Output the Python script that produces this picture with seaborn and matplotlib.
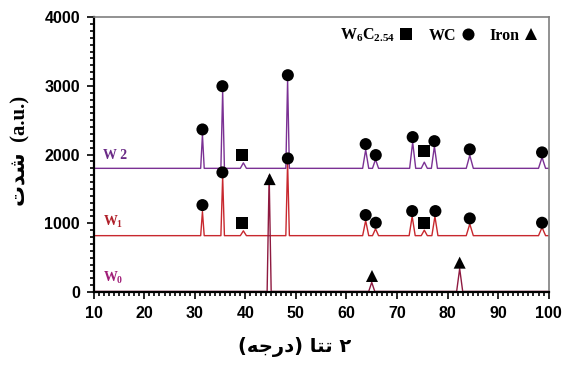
import numpy as np
import pandas as pd
import matplotlib
matplotlib.use('Agg')
import matplotlib.pyplot as plt
import seaborn as sns
from matplotlib.ticker import MultipleLocator

# XRD patterns (2-theta in degrees, intensity in a.u.)
w2_base = 1800
w2_peaks = [31.5, 35.5, 39.6, 48.35, 63.8, 65.75, 73.1, 75.4, 77.4, 84.4, 98.7]
w2_tops = [2290, 2930, 1880, 3090, 2070, 1930, 2180, 1890, 2120, 1990, 1960]
w2_widths = [0.35, 0.35, 0.6, 0.35, 0.6, 0.6, 0.6, 0.6, 0.6, 0.7, 0.7]

w1_base = 820
w1_peaks = [31.5, 35.5, 39.6, 48.35, 63.8, 65.75, 73.0, 75.4, 77.5, 84.4, 98.7]
w1_tops = [1170, 1680, 890, 1890, 1040, 920, 1100, 900, 1100, 990, 940]
w1_widths = [0.35, 0.35, 0.6, 0.35, 0.6, 0.6, 0.6, 0.6, 0.6, 0.7, 0.7]

w0_base = 8
w0_peaks = [44.7, 65.0, 82.4]
w0_tops = [1700, 140, 340]
w0_widths = [0.4, 0.6, 0.6]

# phase markers
w6c_x = [39.4, 39.4, 75.3, 75.3]
w6c_y = [1993, 1008, 2051, 1008]
wc_x = [31.5, 35.45, 48.4, 63.8, 65.8, 73.1, 77.4, 84.4, 98.7,
        31.5, 35.45, 48.4, 63.8, 65.8, 73.0, 77.6, 84.4, 98.7]
wc_y = [2366, 2996, 3156, 2153, 1993, 2255, 2196, 2076, 2032,
        1265, 1741, 1944, 1120, 1008, 1178, 1178, 1071, 1008]
iron_x = [44.8, 65.05, 82.4]
iron_y = [1643, 233, 427]


def pattern(name, base, peaks, tops, widths):
    xs, ys = [10.0], [base]
    for p, t, w in zip(peaks, tops, widths):
        xs += [p - w, p, p + w]
        ys += [base, t, base]
    xs.append(100.0)
    ys.append(base)
    return pd.DataFrame({'two_theta': xs, 'intensity': ys, 'sample': name})


lines = pd.concat([
    pattern('W2', w2_base, w2_peaks, w2_tops, w2_widths),
    pattern('W1', w1_base, w1_peaks, w1_tops, w1_widths),
    pattern('W0', w0_base, w0_peaks, w0_tops, w0_widths),
], ignore_index=True)

marks = pd.DataFrame({
    'two_theta': w6c_x + wc_x + iron_x,
    'intensity': w6c_y + wc_y + iron_y,
    'phase': ['W$_6$C$_{2.54}$'] * len(w6c_x) + ['WC'] * len(wc_x) + ['Iron'] * len(iron_x),
})

sns.set_style('white')
plt.rcParams['font.family'] = ['Liberation Sans', 'DejaVu Sans']
plt.rcParams['mathtext.default'] = 'regular'
plt.rcParams['text.color'] = 'black'
plt.rcParams['xtick.color'] = 'black'
plt.rcParams['ytick.color'] = 'black'
plt.rcParams['axes.labelcolor'] = 'black'

fig = plt.figure(figsize=(5.65, 3.79), dpi=100)
ax = fig.add_axes([0.166, 0.2296, 0.805, 0.725])

colors = {'W2': '#7b3194', 'W1': '#c8282e', 'W0': '#8e1a40'}
sns.lineplot(data=lines, x='two_theta', y='intensity', hue='sample', palette=colors,
             sort=False, estimator=None, lw=1.0, legend=False, ax=ax)

sns.scatterplot(data=marks, x='two_theta', y='intensity', style='phase',
                style_order=['W$_6$C$_{2.54}$', 'WC', 'Iron'],
                markers={'W$_6$C$_{2.54}$': 's', 'WC': 'o', 'Iron': '^'},
                color='black', s=75, linewidth=0, zorder=5, ax=ax)

handles, labels = ax.get_legend_handles_labels()
ax.legend(handles, labels, loc='upper right', ncol=3, markerfirst=False, frameon=False,
          handletextpad=0.2, columnspacing=0.9, borderaxespad=0.2, handlelength=1.0,
          prop={'family': 'Liberation Serif', 'weight': 'bold', 'size': 11.5})

# sample labels
serif = dict(family='Liberation Serif', weight='bold', fontsize=10)
ax.text(11.8, 1980, 'W 2', color='#6a2a86', va='center', **serif)
ax.text(11.8, 1020, 'W$_1$', color='#b0202a', va='center', **serif)
ax.text(11.8, 210, 'W$_0$', color='#a01e78', va='center', **serif)

ax.set_xlim(10, 100)
ax.set_ylim(0, 4000)
ax.xaxis.set_major_locator(MultipleLocator(10))
ax.xaxis.set_minor_locator(MultipleLocator(1))
ax.yaxis.set_major_locator(MultipleLocator(1000))
ax.yaxis.set_minor_locator(MultipleLocator(100))
ax.tick_params(which='both', direction='out', left=True, bottom=True, top=False, right=False,
               width=1.2, color='black')
ax.tick_params(which='major', length=5, labelsize=11.5, pad=5)
ax.tick_params(which='minor', length=3)
for lab in ax.get_xticklabels() + ax.get_yticklabels():
    lab.set_fontweight('bold')

for side in ['left', 'bottom']:
    ax.spines[side].set_color('black')
    ax.spines[side].set_linewidth(1.6)
for side in ['top', 'right']:
    ax.spines[side].set_color('#7f7f7f')
    ax.spines[side].set_linewidth(1.2)

# Persian labels (presentation forms in visual order)
ax.set_xlabel('(\uFEEA\uFE9F\uFEAD\uFEA9) \uFE8E\uFE98\uFE97 \u06F2',
              fontsize=14, fontweight='bold', family=['DejaVu Sans'])
ax.xaxis.set_label_coords(0.442, -0.165)
ax.set_ylabel('\uFE95\uFEAA\uFEB7  (a.u.)', fontsize=15, fontweight='bold',
              family=['Liberation Serif', 'DejaVu Sans'])
ax.yaxis.set_label_coords(-0.14, 0.515)

fig.savefig('out.png', dpi=100)
